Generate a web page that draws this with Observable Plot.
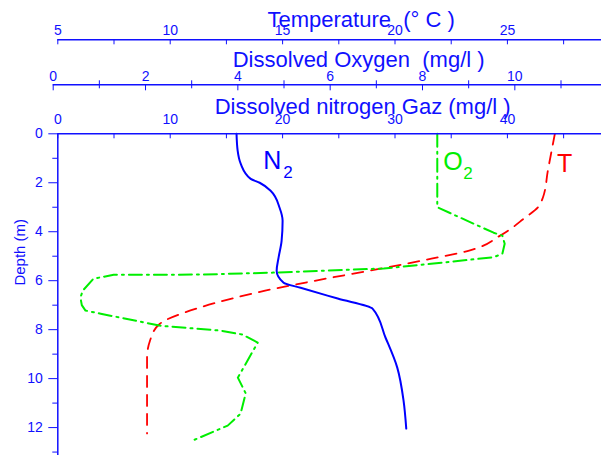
<!DOCTYPE html>
<html>
<head>
<meta charset="utf-8">
<script src="https://cdn.jsdelivr.net/npm/d3@7"></script>
<script src="https://cdn.jsdelivr.net/npm/@observablehq/plot@0.6"></script>
<style>
  html, body { margin: 0; padding: 0; background: #fff; }
  #chart svg { display: block; overflow: visible; }
</style>
</head>
<body>
<div id="chart"></div>
<script>
// ---- Data ----
// Dissolved nitrogen gas (mg/l) vs depth (m)
const n2Depth = [0, 0.69, 1.22, 1.84, 2.0, 2.33, 3.02, 3.55, 4.37, 5.06, 5.59, 6.08, 6.29, 6.73, 7.14, 8.33, 9.55, 10.9, 12.04];
const n2Value = [15.9, 16.0, 16.27, 17.16, 17.96, 18.93, 19.73, 20.0, 19.91, 19.64, 19.47, 20.09, 21.6, 24.9, 28.0, 29.16, 30.2, 30.76, 31.0];

// Dissolved oxygen (mg/l) vs depth (m)
const o2Depth = [0, 3.0, 4.04, 4.16, 4.49, 4.9, 5.04, 5.3, 5.5, 5.67, 5.75, 5.76, 5.92, 6.41, 6.69, 7.0, 7.22, 7.35, 7.84, 8.04, 8.2, 8.53, 9.96, 10.6, 11.43, 11.92, 12.53];
const o2Value = [8.32, 8.32, 9.54, 9.73, 9.78, 9.73, 9.54, 8.24, 7.16, 4.77, 3.19, 1.31, 0.87, 0.64, 0.59, 0.62, 0.70, 1.03, 2.33, 3.63, 4.1, 4.43, 4.0, 4.17, 4.06, 3.78, 3.02];

// Temperature (°C) vs depth (m)
const tDepth = [0, 1.5, 2.6, 3.0, 3.43, 4.16, 4.78, 5.1, 5.5, 5.87, 6.4, 7.1, 7.76, 8.45, 9.14, 12.24];
const tValue = [27.11, 26.8, 26.58, 26.36, 25.78, 24.68, 23.26, 21.62, 19.41, 17.2, 14.27, 11.31, 9.54, 9.1, 8.97, 8.97];

// Tick values
const depthMajor = [0, 2, 4, 6, 8, 10, 12];
const depthMinor = [1, 3, 5, 7, 9, 11, 13];
const n2Ticks = [0, 5, 10, 15, 20, 25, 30, 35, 40, 45];
const n2Labels = [0, 10, 20, 30, 40];
const o2Major = [0, 2, 4, 6, 8, 10];
const o2Minor = [1, 3, 5, 7, 9, 11];
const tTicks = [5, 7.5, 10, 12.5, 15, 17.5, 20, 22.5, 25, 27.5];
const tLabels = [5, 10, 15, 20, 25];

// Texts
const titleT = "Temperature  (° C )";
const titleO = "Dissolved Oxygen  (mg/l )";
const titleN = "Dissolved nitrogen Gaz (mg/l )";
const yTitle = [{text: "Depth (m)", depth: 6.2}];
const curveLabels = [
  {main: "N", sub: "2", series: "n2", value: 18.27, depth: 1.43},
  {main: "O", sub: "2", series: "o2", value: 8.45, depth: 1.46},
  {main: "T", sub: "",  series: "t",  value: 27.2, depth: 1.57}
];

// ---- Axis relations: all series share the nitrogen x scale ----
// Temperature: 5 °C sits at N2 = 0, 25 °C at N2 = 40
const tToN = v => (v - 5) * 2;
const nToT = n => n / 2 + 5;
// Oxygen: 0 mg/l sits at N2 ≈ -0.41, 10 mg/l at N2 ≈ 40.66
const oToN = v => -0.41 + v * 4.107;
const nToO = n => (n + 0.41) / 4.107;
const toN = {n2: v => v, o2: oToN, t: tToN};

const n2Data = n2Depth.map((d, i) => ({depth: d, x: n2Value[i]}));
const o2Data = o2Depth.map((d, i) => ({depth: d, x: oToN(o2Value[i])}));
const tData = tDepth.map((d, i) => ({depth: d, x: tToN(tValue[i])}));
const labelData = curveLabels.map(l => ({...l, x: toN[l.series](l.value)}));

const BLUE = "#1010ff";
const GREEN = "#00ee00";
const RED = "#ff0000";
const XMAX = 48.37;
const font = "Liberation Sans, Arial, Helvetica, sans-serif";
const colorOf = d => d.series === "n2" ? "#0000ff" : d.series === "o2" ? GREEN : RED;

const chart = Plot.plot({
  width: 601,
  height: 455,
  marginLeft: 57.3,
  marginRight: 0,
  marginTop: 133.3,
  marginBottom: 0,
  x: {domain: [0, XMAX]},
  y: {domain: [0, 13.14], reverse: true},
  style: {fontFamily: font, background: "white", color: BLUE},
  marks: [
    // data lines
    Plot.line(tData, {x: "x", y: "depth", curve: "monotone-y", stroke: RED, strokeWidth: 1.8, strokeDasharray: "11,8"}),
    Plot.line(o2Data, {x: "x", y: "depth", curve: "linear", stroke: GREEN, strokeWidth: 2, strokeDasharray: "13,5,2,5"}),
    Plot.line(n2Data, {x: "x", y: "depth", curve: "monotone-y", stroke: "#0000ff", strokeWidth: 2}),

    // y axis
    Plot.ruleX([0], {stroke: BLUE, strokeWidth: 1.5}),
    Plot.axisY(depthMajor, {anchor: "left", tickSize: 9, tickPadding: 6, fontSize: 14, stroke: BLUE, fill: BLUE, label: null}),
    Plot.axisY(depthMinor, {anchor: "left", tickSize: 5, tickFormat: () => "", stroke: BLUE, label: null}),
    Plot.text(yTitle, {text: "text", y: "depth", frameAnchor: "left", rotate: -90, dx: -38, fontSize: 15, fill: BLUE}),

    // nitrogen axis (top of frame)
    Plot.ruleY([0], {stroke: BLUE, strokeWidth: 1.5}),
    Plot.axisX(n2Ticks, {anchor: "bottom", frameAnchor: "top", tickSize: 5, tickFormat: () => "", stroke: BLUE, label: null}),
    Plot.axisX(n2Labels, {anchor: "top", tickSize: 0, tickPadding: 10.3, fontSize: 14, fill: BLUE, tickFormat: d => String(d), label: null}),
    Plot.text([titleN], {frameAnchor: "top", dx: 33, dy: -20.3, lineAnchor: "bottom", fontSize: 22, fill: BLUE}),

    // oxygen axis
    Plot.ruleY([0], {x1: oToN(0), x2: XMAX, dy: -49, stroke: BLUE, strokeWidth: 1.5}),
    Plot.axisX(o2Major.map(oToN), {anchor: "bottom", frameAnchor: "top", dy: -49, tickSize: 6, tickFormat: () => "", stroke: BLUE, label: null}),
    Plot.axisX(o2Minor.map(oToN), {anchor: "bottom", frameAnchor: "top", dy: -53, tickSize: 8, tickFormat: () => "", stroke: BLUE, label: null}),
    Plot.axisX(o2Major.map(oToN), {anchor: "top", dy: -49, tickSize: 0, tickPadding: 4, fontSize: 14, fill: BLUE, tickFormat: d => String(Math.round(nToO(d))), label: null}),
    Plot.text([titleO], {frameAnchor: "top", dx: 29, dy: -67.3, lineAnchor: "bottom", fontSize: 22, fill: BLUE}),

    // temperature axis
    Plot.ruleY([0], {x1: tToN(5), x2: XMAX, dy: -94, stroke: BLUE, strokeWidth: 1.5}),
    Plot.axisX(tTicks.map(tToN), {anchor: "bottom", frameAnchor: "top", dy: -94, tickSize: 5, tickFormat: () => "", stroke: BLUE, label: null}),
    Plot.axisX(tLabels.map(tToN), {anchor: "top", dy: -94, tickSize: 0, tickPadding: 5, fontSize: 14, fill: BLUE, tickFormat: d => String(Math.round(nToT(d))), label: null}),
    Plot.text([titleT], {frameAnchor: "top", dx: 31.5, dy: -107.3, lineAnchor: "bottom", fontSize: 22, fill: BLUE}),

    // curve labels
    Plot.text(labelData, {x: "x", y: "depth", text: "main", textAnchor: "start", lineAnchor: "bottom", fontSize: 25, fill: colorOf}),
    Plot.text(labelData, {x: "x", y: "depth", text: "sub", textAnchor: "start", lineAnchor: "bottom", fontSize: 17, dx: 20, dy: 9, fill: colorOf})
  ]
});

document.getElementById("chart").appendChild(chart);
</script>
</body>
</html>
